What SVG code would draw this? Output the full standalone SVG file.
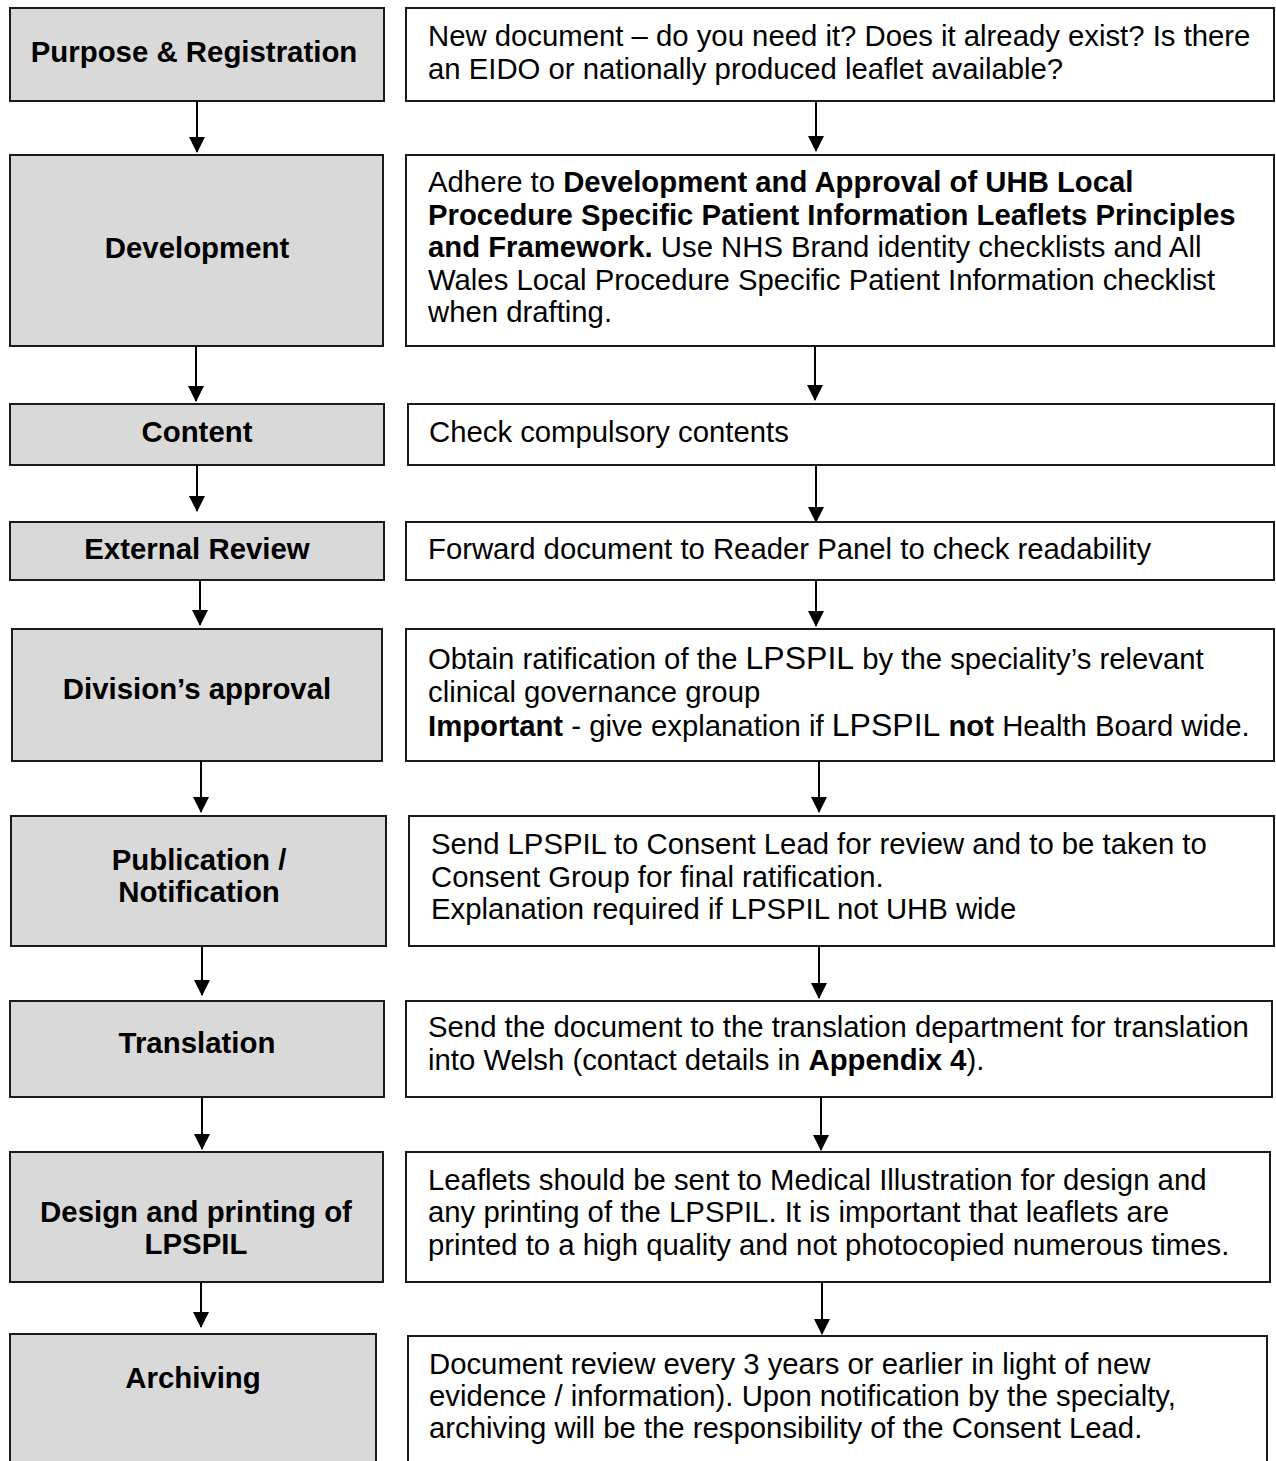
<svg xmlns="http://www.w3.org/2000/svg" width="1276" height="1461" viewBox="0 0 1276 1461">
<style>
.stage{fill:#d9d9d9;stroke:#1a1a1a;stroke-width:2}
.info{fill:#ffffff;stroke:#1a1a1a;stroke-width:2}
.lbl{font-family:"Liberation Sans",Arial,sans-serif;font-weight:bold;font-size:29.4px;fill:#000;text-anchor:middle}
.txt{font-family:"Liberation Sans",Arial,sans-serif;font-size:29.3px;fill:#000}
.b{font-weight:bold}
.big{font-size:32px}
.con{stroke:#000;stroke-width:2;fill:none;marker-end:url(#ah)}
</style>
<defs>
<marker id="ah" markerUnits="userSpaceOnUse" markerWidth="16" markerHeight="16" refX="15" refY="8" orient="auto">
<path d="M0,0 L16,8 L0,16 z" fill="#000"/>
</marker>
</defs>

<g id="stage-purpose"><rect class="stage" x="10" y="8" width="374" height="93"/><text class="lbl" x="194" y="62">Purpose &amp; Registration</text></g>
<g id="info-purpose"><rect class="info" x="406" y="8" width="868" height="93"/><text class="txt" x="428" y="46">New document – do you need it? Does it already exist? Is there</text><text class="txt" x="428" y="79">an EIDO or nationally produced leaflet available?</text></g>

<g id="stage-development"><rect class="stage" x="10" y="155" width="373" height="191"/><text class="lbl" x="197" y="258">Development</text></g>
<g id="info-development"><rect class="info" x="406" y="155" width="868" height="191"/>
<text class="txt" x="428" y="192">Adhere to <tspan class="b">Development and Approval of UHB Local</tspan></text>
<text class="txt b" x="428" y="225">Procedure Specific Patient Information Leaflets Principles</text>
<text class="txt" x="428" y="257"><tspan class="b">and Framework.</tspan> Use NHS Brand identity checklists and All</text>
<text class="txt" x="428" y="290">Wales Local Procedure Specific Patient Information checklist</text>
<text class="txt" x="428" y="322">when drafting.</text></g>

<g id="stage-content"><rect class="stage" x="10" y="404" width="374" height="61"/><text class="lbl" x="197" y="442">Content</text></g>
<g id="info-content"><rect class="info" x="408" y="404" width="866" height="61"/><text class="txt" x="429" y="442">Check compulsory contents</text></g>

<g id="stage-external"><rect class="stage" x="10" y="522" width="374" height="58"/><text class="lbl" x="197" y="559">External Review</text></g>
<g id="info-external"><rect class="info" x="406" y="522" width="868" height="58"/><text class="txt" x="428" y="559">Forward document to Reader Panel to check readability</text></g>

<g id="stage-division"><rect class="stage" x="12" y="629" width="370" height="132"/><text class="lbl" x="197" y="699">Division’s approval</text></g>
<g id="info-division"><rect class="info" x="406" y="629" width="868" height="132"/>
<text class="txt" x="428" y="669">Obtain ratification of the <tspan class="big">LPSPIL</tspan> by the speciality’s relevant</text>
<text class="txt" x="428" y="702">clinical governance group</text>
<text class="txt" x="428" y="736"><tspan class="b">Important</tspan> - give explanation if <tspan class="big">LPSPIL</tspan> <tspan class="b">not</tspan> Health Board wide.</text></g>

<g id="stage-publication"><rect class="stage" x="11" y="816" width="375" height="130"/><text class="lbl" x="199" y="870">Publication /</text><text class="lbl" x="199" y="902">Notification</text></g>
<g id="info-publication"><rect class="info" x="409" y="816" width="865" height="130"/>
<text class="txt" x="431" y="854">Send LPSPIL to Consent Lead for review and to be taken to</text>
<text class="txt" x="431" y="887">Consent Group for final ratification.</text>
<text class="txt" x="431" y="919">Explanation required if LPSPIL not UHB wide</text></g>

<g id="stage-translation"><rect class="stage" x="10" y="1001" width="374" height="96"/><text class="lbl" x="197" y="1053">Translation</text></g>
<g id="info-translation"><rect class="info" x="406" y="1001" width="866" height="96"/>
<text class="txt" x="428" y="1037">Send the document to the translation department for translation</text>
<text class="txt" x="428" y="1070">into Welsh (contact details in <tspan class="b">Appendix 4</tspan>).</text></g>

<g id="stage-design"><rect class="stage" x="10" y="1152" width="373" height="130"/><text class="lbl" x="196" y="1222">Design and printing of</text><text class="lbl" x="196" y="1254">LPSPIL</text></g>
<g id="info-design"><rect class="info" x="406" y="1152" width="864" height="130"/>
<text class="txt" x="428" y="1190">Leaflets should be sent to Medical Illustration for design and</text>
<text class="txt" x="428" y="1222">any printing of the LPSPIL. It is important that leaflets are</text>
<text class="txt" x="428" y="1255">printed to a high quality and not photocopied numerous times.</text></g>

<g id="stage-archiving"><rect class="stage" x="10" y="1334" width="366" height="140"/><text class="lbl" x="193" y="1388">Archiving</text></g>
<g id="info-archiving"><rect class="info" x="408" y="1336" width="859" height="140"/>
<text class="txt" x="429" y="1374">Document review every 3 years or earlier in light of new</text>
<text class="txt" x="429" y="1406">evidence / information). Upon notification by the specialty,</text>
<text class="txt" x="429" y="1438">archiving will be the responsibility of the Consent Lead.</text></g>

<g id="connectors">
<line class="con" x1="197" y1="101" x2="197" y2="152"/>
<line class="con" x1="196" y1="346" x2="196" y2="401"/>
<line class="con" x1="197" y1="465" x2="197" y2="511"/>
<line class="con" x1="200" y1="580" x2="200" y2="625"/>
<line class="con" x1="201" y1="761" x2="201" y2="812"/>
<line class="con" x1="202" y1="946" x2="202" y2="995"/>
<line class="con" x1="202" y1="1097" x2="202" y2="1149"/>
<line class="con" x1="201" y1="1282" x2="201" y2="1327"/>
<line class="con" x1="816" y1="101" x2="816" y2="151"/>
<line class="con" x1="815" y1="346" x2="815" y2="400"/>
<line class="con" x1="816" y1="465" x2="816" y2="522"/>
<line class="con" x1="816" y1="580" x2="816" y2="626"/>
<line class="con" x1="819" y1="761" x2="819" y2="812"/>
<line class="con" x1="819" y1="946" x2="819" y2="998"/>
<line class="con" x1="821" y1="1097" x2="821" y2="1150"/>
<line class="con" x1="822" y1="1282" x2="822" y2="1334"/>
</g>
</svg>
